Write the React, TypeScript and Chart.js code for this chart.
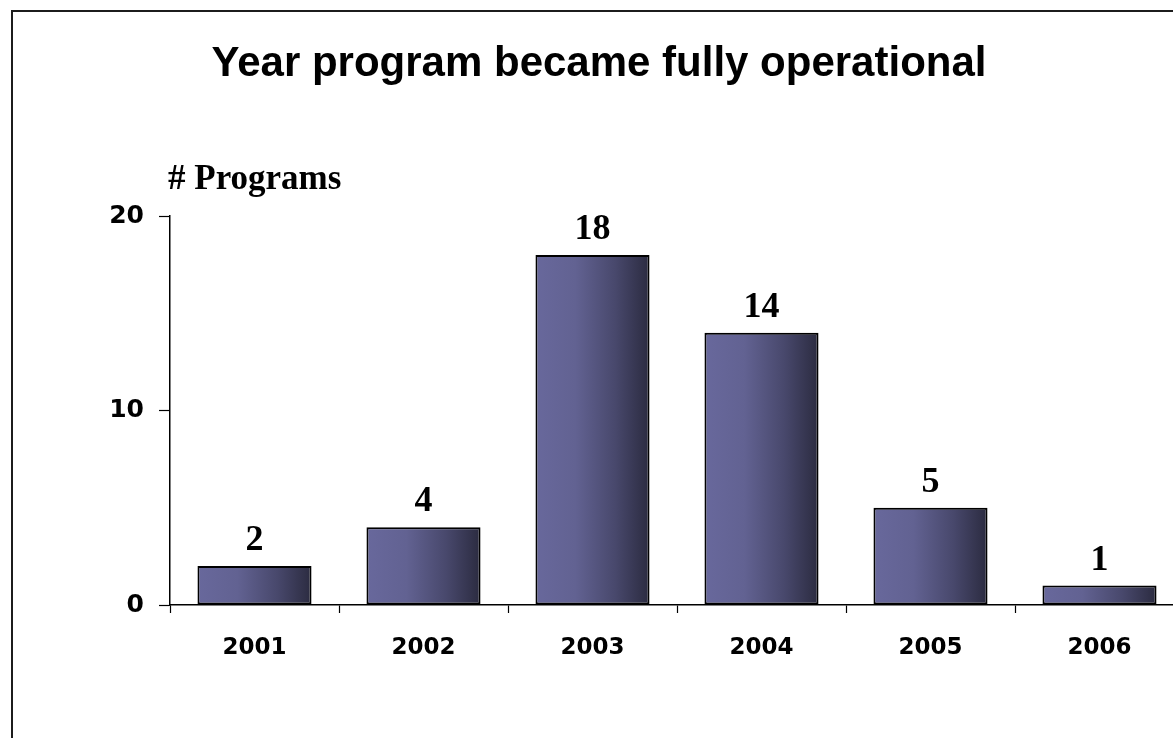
import React, { useEffect, useRef } from "react";
import { Chart, registerables } from "chart.js";

Chart.register(...registerables);

const chartTitle = "Year program became fully operational";
const yAxisCaption = "# Programs";
const categories = ["2001", "2002", "2003", "2004", "2005", "2006"];
const programCounts = [2, 4, 18, 14, 5, 1];
const yTickValues = [0, 10, 20];

const CANVAS_W = 1200;
const CANVAS_H = 738;

const frameAndTextPlugin = {
  id: "frameAndText",
  beforeDraw(chart: any) {
    const ctx = chart.ctx;
    ctx.save();
    ctx.fillStyle = "#ffffff";
    ctx.fillRect(0, 0, chart.width, chart.height);
    ctx.strokeStyle = "#1c1c1c";
    ctx.lineWidth = 2;
    ctx.beginPath();
    ctx.moveTo(12, chart.height + 5);
    ctx.lineTo(12, 11);
    ctx.lineTo(chart.width + 5, 11);
    ctx.stroke();

    ctx.fillStyle = "#000000";
    ctx.textAlign = "center";
    ctx.textBaseline = "alphabetic";
    ctx.font = "bold 42px 'Liberation Sans', Arial, sans-serif";
    ctx.fillText(chartTitle, 599, 76);

    ctx.textAlign = "left";
    ctx.font = "bold 35px 'Liberation Serif', 'Times New Roman', serif";
    ctx.fillText(yAxisCaption, 168, 189);
    ctx.restore();
  },
  afterDatasetsDraw(chart: any) {
    const ctx = chart.ctx;
    const meta = chart.getDatasetMeta(0);
    ctx.save();
    ctx.fillStyle = "#000000";
    ctx.textAlign = "center";
    ctx.textBaseline = "alphabetic";
    ctx.font = "bold 36px 'Liberation Serif', 'Times New Roman', serif";
    meta.data.forEach((el: any, i: number) => {
      ctx.fillText(String(programCounts[i]), el.x, el.y - 16);
    });
    ctx.restore();
  },
};

const BAR_PCT = 0.675;

function barGradient(context: any) {
  const chart = context.chart;
  const xs = chart.scales?.x;
  if (!xs || context.dataIndex === undefined) return "#5a5a88";
  const center = xs.getPixelForValue(context.dataIndex);
  const half = ((xs.width / categories.length) * BAR_PCT) / 2;
  if (!isFinite(center) || !isFinite(half) || half <= 0) return "#5a5a88";
  const g = chart.ctx.createLinearGradient(center - half, 0, center + half, 0);
  g.addColorStop(0, "#68689c");
  g.addColorStop(0.35, "#626292");
  g.addColorStop(0.7, "#48486c");
  g.addColorStop(1, "#2b2b40");
  return g;
}

export default function App() {
  const canvasRef = useRef<HTMLCanvasElement | null>(null);

  useEffect(() => {
    if (!canvasRef.current) return;
    const chart = new Chart(canvasRef.current, {
      type: "bar",
      data: {
        labels: categories,
        datasets: [
          {
            data: programCounts,
            backgroundColor: barGradient,
            borderColor: "#000000",
            borderWidth: 2,
            borderSkipped: false,
            categoryPercentage: 1,
            barPercentage: BAR_PCT,
          },
        ],
      },
      options: {
        responsive: false,
        animation: false,
        devicePixelRatio: 1,
        layout: {
          padding: { left: 0, top: 216, right: CANVAS_W - 1184, bottom: 738 - 605 - 80 },
        },
        plugins: {
          legend: { display: false },
          title: { display: false },
          tooltip: { enabled: false },
        },
        scales: {
          x: {
            offset: true,
            grid: {
              offset: true,
              drawOnChartArea: false,
              drawTicks: true,
              tickLength: 8,
              tickColor: "#000000",
              tickWidth: 1.2,
            },
            border: { display: true, color: "#000000", width: 1.5 },
            ticks: {
              color: "#000000",
              padding: 21,
              maxRotation: 0,
              font: { family: "'DejaVu Sans', Verdana, sans-serif", weight: "bold", size: 23 },
            },
            afterFit(scale: any) {
              scale.height = 80;
            },
          },
          y: {
            min: 0,
            max: 20,
            afterBuildTicks(scale: any) {
              scale.ticks = yTickValues.map((v) => ({ value: v }));
            },
            grid: {
              drawOnChartArea: false,
              drawTicks: true,
              tickLength: 11,
              tickColor: "#000000",
              tickWidth: 1.2,
            },
            border: { display: true, color: "#000000", width: 1.5 },
            ticks: {
              color: "#000000",
              padding: 15,
              font: { family: "'DejaVu Sans', Verdana, sans-serif", weight: "bold", size: 25 },
            },
            afterFit(scale: any) {
              scale.width = 170;
            },
          },
        },
      },
      plugins: [frameAndTextPlugin],
    });
    return () => chart.destroy();
  }, []);

  return (
    <div
      style={{
        position: "fixed",
        left: 0,
        top: 0,
        width: 1173,
        height: 738,
        overflow: "hidden",
        background: "#ffffff",
      }}
    >
      <canvas
        ref={canvasRef}
        width={CANVAS_W}
        height={CANVAS_H}
        style={{ display: "block", width: CANVAS_W, height: CANVAS_H }}
      />
    </div>
  );
}
